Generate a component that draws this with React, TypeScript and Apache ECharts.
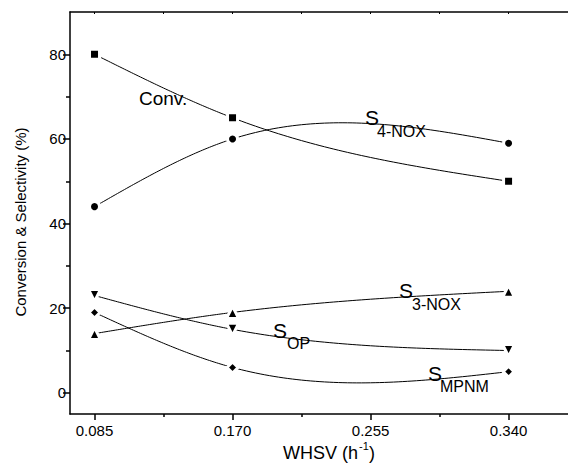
import React, { useEffect, useRef } from "react";
import * as echarts from "echarts";

const xValues = [0.085, 0.17, 0.34];
const convValues = [80, 65, 50];
const s4noxValues = [44, 60, 59];
const s3noxValues = [14, 19, 24];
const sopValues = [23, 15, 10];
const smpnmValues = [19, 6, 5];

const xMajorTicks = [0.085, 0.17, 0.255, 0.34];
const xMinorTicks = [0.1275, 0.2125, 0.2975];
const yMajorTicks = [0, 20, 40, 60, 80];
const yMinorTicks = [10, 30, 50, 70];

const FONT = "'Liberation Sans', Arial, sans-serif";
const X_MIN = 0.0699;
const X_MAX = 0.3766;

// natural cubic spline through the data points (rendering only)
function splineSampler(xs: number[], ys: number[]) {
  const n = xs.length;
  const h: number[] = [];
  for (let i = 0; i < n - 1; i++) h.push(xs[i + 1] - xs[i]);
  const M = new Array(n).fill(0);
  if (n > 2) {
    const a: number[] = [], b: number[] = [], c: number[] = [], d: number[] = [];
    for (let i = 1; i < n - 1; i++) {
      a.push(h[i - 1]);
      b.push(2 * (h[i - 1] + h[i]));
      c.push(h[i]);
      d.push(6 * ((ys[i + 1] - ys[i]) / h[i] - (ys[i] - ys[i - 1]) / h[i - 1]));
    }
    const m = b.length;
    for (let i = 1; i < m; i++) {
      const w = a[i] / b[i - 1];
      b[i] -= w * c[i - 1];
      d[i] -= w * d[i - 1];
    }
    const sol = new Array(m).fill(0);
    sol[m - 1] = d[m - 1] / b[m - 1];
    for (let i = m - 2; i >= 0; i--) sol[i] = (d[i] - c[i] * sol[i + 1]) / b[i];
    for (let i = 0; i < m; i++) M[i + 1] = sol[i];
  }
  return (seg: number, t: number) => {
    const hh = h[seg];
    const y =
      (1 - t) * ys[seg] +
      t * ys[seg + 1] -
      ((hh * hh) / 6) * (M[seg] * ((1 - t) - Math.pow(1 - t, 3)) + M[seg + 1] * (t - t * t * t));
    return [xs[seg] + t * hh, y];
  };
}

function curveSeries(ys: number[]) {
  const sampler = splineSampler(xValues, ys);
  return {
    type: "custom",
    xAxisIndex: 0,
    yAxisIndex: 0,
    silent: true,
    z: 2,
    data: xValues.map((x, i) => [x, ys[i]]),
    encode: { x: 0, y: 1 },
    renderItem: (params: any, api: any) => {
      const i = params.dataIndex;
      if (i >= xValues.length - 1) return null;
      const pts: number[][] = [];
      const N = 60;
      for (let k = 0; k <= N; k++) {
        const p = sampler(i, k / N);
        pts.push(api.coord(p));
      }
      return {
        type: "polyline",
        shape: { points: pts, smooth: 0 },
        style: { stroke: "#000", lineWidth: 1, fill: null },
      };
    },
  };
}

function markerSeries(ys: number[], symbol: string, size: number, rotate = 0) {
  return {
    type: "scatter",
    xAxisIndex: 0,
    yAxisIndex: 0,
    z: 3,
    symbol,
    symbolSize: size,
    symbolRotate: rotate,
    itemStyle: { color: "#000", borderColor: "#fff", borderWidth: 3, borderJoin: "round", opacity: 1 },
    data: xValues.map((x, i) => [x, ys[i]]),
  };
}

function txt(text: string, x: number, y: number, size: number, extra: any = {}) {
  return {
    type: "text",
    x,
    y,
    z: 10,
    style: {
      text,
      fill: "#000",
      font: `${size}px ${FONT}`,
      textAlign: "left",
      textVerticalAlign: "middle",
      ...extra,
    },
  };
}

export default function App() {
  const ref = useRef<HTMLDivElement>(null);
  useEffect(() => {
    if (!ref.current) return;
    const chart = echarts.init(ref.current, null, { renderer: "svg" });
    const baseX = { type: "value", min: X_MIN, max: X_MAX, gridIndex: 0, splitLine: { show: false } };
    const baseY = { type: "value", min: -5, max: 90, gridIndex: 0, splitLine: { show: false } };
    chart.setOption({
      animation: false,
      backgroundColor: "#fff",
      grid: { left: 70, right: 0, top: 12, bottom: 50, containLabel: false },
      xAxis: [
        {
          ...baseX,
          position: "bottom",
          axisLine: { show: true, onZero: false, lineStyle: { color: "#000", width: 1.5 } },
          axisTick: { show: true, length: 6, inside: false, customValues: xMajorTicks, lineStyle: { color: "#000", width: 1.5 } },
          axisLabel: {
            show: true,
            customValues: xMajorTicks,
            formatter: (v: number) => v.toFixed(3),
            color: "#000",
            fontSize: 15,
            fontFamily: FONT,
            margin: 9,
          },
        },
        {
          ...baseX,
          position: "bottom",
          axisLine: { show: false, onZero: false },
          axisTick: { show: true, length: 3, customValues: xMinorTicks, lineStyle: { color: "#000", width: 1.5 } },
          axisLabel: { show: false },
        },
        {
          ...baseX,
          position: "top",
          axisLine: { show: true, onZero: false, lineStyle: { color: "#000", width: 1.5 } },
          axisTick: { show: true, inside: true, length: 2, customValues: [...xMajorTicks, ...xMinorTicks], lineStyle: { color: "#000", width: 1 } },
          axisLabel: { show: false },
        },
      ],
      yAxis: [
        {
          ...baseY,
          position: "left",
          axisLine: { show: true, onZero: false, lineStyle: { color: "#000", width: 1.5 } },
          axisTick: { show: true, length: 7, customValues: yMajorTicks, lineStyle: { color: "#000", width: 1.5 } },
          axisLabel: {
            show: true,
            customValues: yMajorTicks,
            color: "#000",
            fontSize: 15,
            fontFamily: FONT,
            margin: 4,
          },
        },
        {
          ...baseY,
          position: "left",
          axisLine: { show: false, onZero: false },
          axisTick: { show: true, length: 4, customValues: yMinorTicks, lineStyle: { color: "#000", width: 1.5 } },
          axisLabel: { show: false },
        },
      ],
      series: [
        curveSeries(convValues),
        curveSeries(s4noxValues),
        curveSeries(s3noxValues),
        curveSeries(sopValues),
        curveSeries(smpnmValues),
        markerSeries(convValues, "rect", 10),
        markerSeries(s4noxValues, "circle", 10),
        markerSeries(s3noxValues, "triangle", 12),
        markerSeries(sopValues, "triangle", 12, 180),
        markerSeries(smpnmValues, "diamond", 11),
      ],
      graphic: [
        txt("Conv.", 139, 98, 19),
        txt("S", 365, 117, 21),
        txt("4-NOX", 377, 131.5, 16),
        txt("S", 399, 290, 21),
        txt("3-NOX", 412, 304.5, 16),
        txt("S", 273, 330.5, 21),
        txt("OP", 287, 343, 16),
        txt("S", 428, 373.5, 21),
        txt("MPNM", 440, 386, 16),
        txt("WHSV (h", 283, 453, 18),
        txt("-1", 359, 446, 11),
        txt(")", 369, 453, 18),
        {
          type: "text",
          x: 20,
          y: 222,
          rotation: Math.PI / 2,
          z: 10,
          style: {
            text: "Conversion & Selectivity (%)",
            fill: "#000",
            font: `15px ${FONT}`,
            textAlign: "center",
            textVerticalAlign: "middle",
          },
        },
      ],
    });
    return () => chart.dispose();
  }, []);
  return (
    <div
      ref={ref}
      style={{ position: "absolute", left: 0, top: 0, width: 568, height: 464, background: "#fff" }}
    />
  );
}
